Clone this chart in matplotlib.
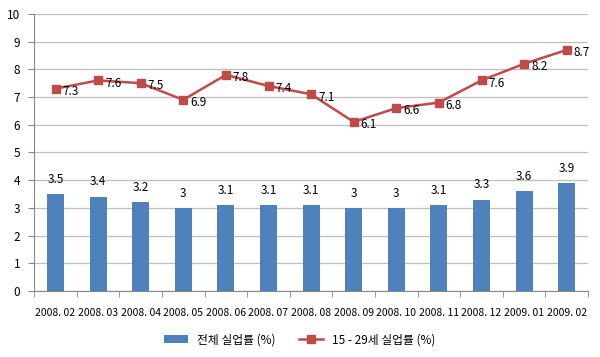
import matplotlib
matplotlib.use('Agg')
from matplotlib import pyplot
import numpy

months = ['2008. 02', '2008. 03', '2008. 04', '2008. 05', '2008. 06', '2008. 07',
          '2008. 08', '2008. 09', '2008. 10', '2008. 11', '2008. 12', '2009. 01',
          '2009. 02']
total_rate = [3.5, 3.4, 3.2, 3.0, 3.1, 3.1, 3.1, 3.0, 3.0, 3.1, 3.3, 3.6, 3.9]
youth_rate = [7.3, 7.6, 7.5, 6.9, 7.8, 7.4, 7.1, 6.1, 6.6, 6.8, 7.6, 8.2, 8.7]
total_name = '전체 실업률 (%)'
youth_name = '15 - 29세 실업률 (%)'

pyplot.rcParams['font.family'] = ['Noto Sans CJK KR', 'DejaVu Sans']
pyplot.rcParams['font.size'] = 8

fig = pyplot.figure(figsize=(6.0, 3.57), dpi=100)
ax = fig.add_axes([0.057, 0.185, 0.923, 0.776])

x = numpy.arange(len(months))
bars = ax.bar(x, total_rate, width=0.4, color='#4F81BD', label=total_name,
              zorder=2)
for xi, v in zip(x, total_rate):
    ax.annotate(f'{v:g}', (xi, v), xytext=(0, 6), textcoords='offset points',
                ha='center', va='bottom', fontsize=8.5)

line, = ax.plot(x, youth_rate, color='#BE4B48', marker='s', markersize=6,
                linewidth=1.8, label=youth_name, zorder=3)
for xi, v in zip(x, youth_rate):
    ax.annotate(f'{v:g}', (xi, v), xytext=(5, -2), textcoords='offset points',
                ha='left', va='center', fontsize=8.5)

ax.set_xlim(-0.5, len(months) - 0.5)
ax.set_ylim(0, 10)
ax.set_yticks(range(0, 11))
ax.set_xticks(x)
ax.set_xticklabels(months, fontsize=7.5)
ax.set_xticks(numpy.arange(-0.5, len(months)), minor=True)
ax.tick_params(axis='x', which='major', length=0, pad=12)
ax.tick_params(axis='x', which='minor', length=4, color='#868686')
ax.tick_params(axis='y', length=4, color='#868686', pad=6, labelsize=8.5)
ax.grid(axis='y', color='#BFBFBF', linewidth=0.9, zorder=0)
ax.set_axisbelow(True)
for side in ['top', 'right']:
    ax.spines[side].set_visible(False)
for side in ['left', 'bottom']:
    ax.spines[side].set_color('#868686')

fig.legend(handles=[bars, line], loc='lower center',
           bbox_to_anchor=(0.5, 0.0), ncol=2, frameon=False,
           prop={'size': 8.5}, columnspacing=2.0, handlelength=2.0)

fig.savefig('out.png', dpi=100)
